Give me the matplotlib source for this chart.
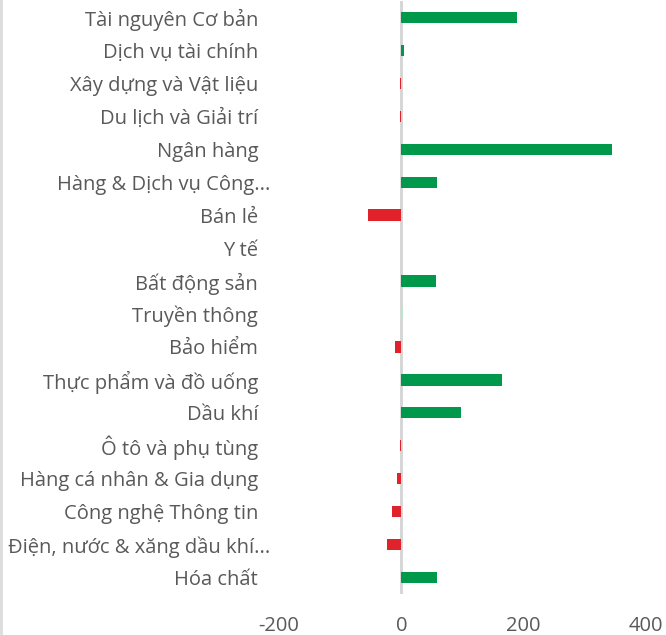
import matplotlib.pyplot as plt
from matplotlib.lines import Line2D
from matplotlib.transforms import ScaledTranslation

plt.rcParams['font.family'] = ['Open Sans', 'DejaVu Sans']

# Categories top to bottom
categories = [
    'Tài nguyên Cơ bản', 'Dịch vụ tài chính', 'Xây dựng và Vật liệu',
    'Du lịch và Giải trí', 'Ngân hàng', 'Hàng & Dịch vụ Công...',
    'Bán lẻ', 'Y tế', 'Bất động sản', 'Truyền thông', 'Bảo hiểm',
    'Thực phẩm và đồ uống', 'Dầu khí', 'Ô tô và phụ tùng',
    'Hàng cá nhân & Gia dụng', 'Công nghệ Thông tin',
    'Điện, nước & xăng dầu khí...', 'Hóa chất',
]
values = [189, 5, -3, -3, 345, 58, -55, 0, 56, 2, -10,
          165, 98, -3, -7, -15, -23, 58]
x_ticks = [-200, 0, 200, 400]

green = '#00994c'
red = '#e0232a'
colors = [green if v >= 0 else red for v in values]
colors[9] = '#b8e6cc'  # nearly invisible tiny bar

fig = plt.figure(figsize=(6.66, 6.35), dpi=100)
ax = fig.add_axes([0.419, 0.065, 0.551, 0.933])

pos = list(range(len(categories)))
ax.barh(pos, values, height=0.35, color=colors)
ax.set_ylim(len(categories) - 0.5, -0.5)
ax.set_xlim(-200, 400)
ax.axvline(0, color='#d4d4d4', linewidth=2, zorder=0)

ax.set_yticks(pos)
ax.set_yticklabels(categories)
ax.set_xticks(x_ticks)
ax.set_xticklabels([str(t) for t in x_ticks])
ax.tick_params(axis='y', length=0, pad=15, labelsize=14.5, labelcolor='#595959')
ax.tick_params(axis='x', length=0, pad=16, labelsize=14.5, labelcolor='#595959')
for s in ax.spines.values():
    s.set_visible(False)

# truncated labels spill a little to the right
for lbl in ax.get_yticklabels():
    if lbl.get_text().endswith('...'):
        lbl.set_transform(lbl.get_transform() + ScaledTranslation(0.12, 0, fig.dpi_scale_trans))

# light border on the left edge of the picture
fig.add_artist(Line2D([0.002, 0.002], [0, 1], color='#dcdcdc', linewidth=2,
                      transform=fig.transFigure))

fig.savefig('out.png', dpi=100)
